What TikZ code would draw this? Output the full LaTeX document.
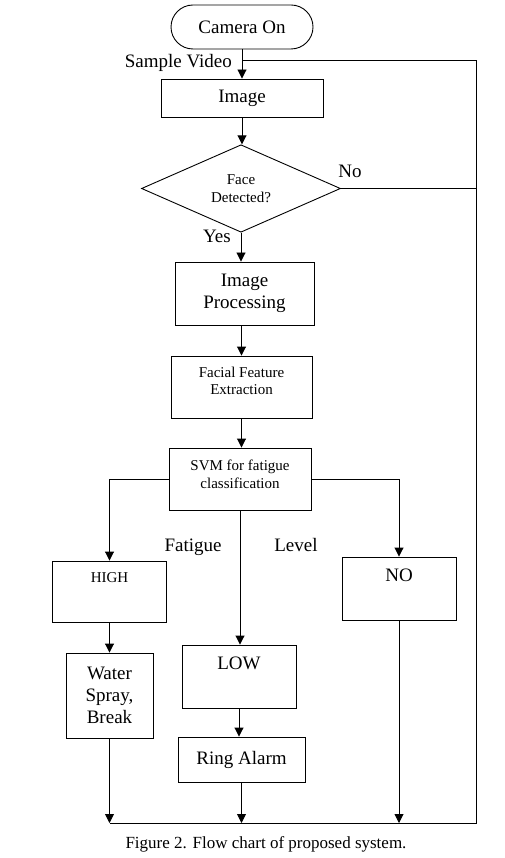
\documentclass[tikz,border=0pt]{standalone}
\usepackage{fontspec}
\setmainfont{Liberation Serif}
\usepackage{tikz}
\usetikzlibrary{arrows.meta, positioning, shapes.geometric, shapes.misc}

\newcommand{\bigtxt}{\fontsize{19}{22}\selectfont}
\newcommand{\smalltxt}{\fontsize{15}{17.5}\selectfont}
\newcommand{\captxt}{\fontsize{17}{20}\selectfont}

\begin{document}
\begin{tikzpicture}[x=1pt, y=-1pt,
    box/.style={draw, line width=0.9pt, inner sep=0pt, align=center, font=\bigtxt},
    term/.style={box, rounded rectangle},
    decision/.style={box, diamond, font=\smalltxt},
    line/.style={line width=0.9pt},
    arr/.style={line, -{Triangle[length=9pt, width=9pt]}},
    lbl/.style={inner sep=0pt, font=\bigtxt}]
    \useasboundingbox (0,0) rectangle (505,858);
    % start and capture
    \node[term, minimum width=142pt, minimum height=44pt] (cam) at (242,27) {Camera On};
    \node[box, minimum width=162pt, minimum height=38pt] (img) at (242,98) {Image};
    \node[decision, minimum width=199pt, minimum height=85pt] (face) at (241,188.5) {Face\\Detected?};
    % processing chain
    \node[box, minimum width=139pt, minimum height=63pt] (proc) at (244.5,293.5) {Image\\Processing};
    \node[box, font=\smalltxt, minimum width=141pt, minimum height=62pt] (feat) at (241.5,387) {Facial Feature\\Extraction\\[-5.5pt]\mbox{}};
    \node[box, font=\smalltxt, minimum width=142pt, minimum height=62pt] (svm) at (240,479) {SVM for fatigue\\classification\\[-7.5pt]\mbox{}};
    % fatigue levels
    \node[box, font=\smalltxt, minimum width=114pt, minimum height=61pt, text height=11pt, text depth=30pt] (high) at (109.5,591.5) {HIGH};
    \node[box, minimum width=114pt, minimum height=63pt, text height=14pt, text depth=29pt] (no) at (399,588.5) {NO};
    \node[box, minimum width=114pt, minimum height=63pt, text height=14pt, text depth=29pt] (low) at (239,676.5) {LOW};
    \node[box, minimum width=87pt, minimum height=85pt] (water) at (109.5,695.5) {Water\\Spray,\\Break};
    \node[box, minimum width=127pt, minimum height=45pt] (ring) at (241.5,759.5) {Ring Alarm};
    % labels
    \node[lbl, anchor=base east] (sample) at (232,68) {Sample Video};
    \node[lbl, anchor=base] (nolbl) at (350,178) {No};
    \node[lbl, anchor=base] (yes) at (217,243) {Yes};
    \node[lbl, anchor=base] (fat) at (193,551) {Fatigue};
    \node[lbl, anchor=base] (lev) at (296,551) {Level};
    \node[inner sep=0pt, font=\captxt, anchor=base] (cap) at (266,848) {Figure 2. Flow chart of proposed system.};
    % loop corners
    \coordinate (sv) at (242,60);
    \coordinate (base) at (476,823);
    % spine
    \draw[arr] (cam.south) -- (cam.south |- img.north);
    \draw[arr] (img.south) -- (img.south |- face.north);
    \draw[arr] (face.south) -- (face.south |- proc.north);
    \draw[arr] (proc.south -| feat.north) -- (feat.north);
    \draw[arr] (feat.south) -- (feat.south |- svm.north);
    % branches
    \draw[arr] (svm.west) -| (high.north);
    \draw[arr] (svm.east) -| (no.north);
    \draw[arr] (svm.south) -- (svm.south |- low.north);
    \draw[arr] (high.south) -- (water.north);
    \draw[arr] (low.south) -- (low.south |- ring.north);
    % back to the camera
    \draw[arr] (water.south) -- (water.south |- base);
    \draw[arr] (ring.south) -- (ring.south |- base);
    \draw[arr] (no.south) -- (no.south |- base);
    \draw[line] (water.south |- base) -- (base) -- (base |- sv) -- (sv);
    \draw[line] (face.east) -- (face.east -| base);
\end{tikzpicture}
\end{document}
